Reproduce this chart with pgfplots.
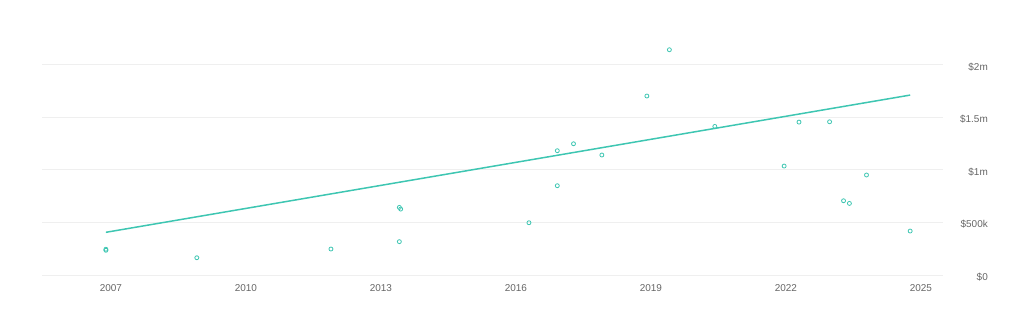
\documentclass[border=0pt]{standalone}
\usepackage{fontspec}
\setmainfont{Liberation Sans}
\usepackage{pgfplots}
\pgfplotsset{compat=1.18}
\definecolor{teal1}{HTML}{3EC6B2}
\definecolor{gridc}{HTML}{EFEFEF}
\definecolor{labc}{HTML}{666666}
\begin{document}
\begin{tikzpicture}
\useasboundingbox (0,0) rectangle (1016bp,320bp);
\begin{axis}[
  at={(42bp,45bp)}, anchor=south west,
  scale only axis, width=901bp, height=245bp,
  xmin=2005.47, xmax=2025.49,
  ymin=0, ymax=2.33,
  axis line style={draw=none},
  tick style={draw=none},
  xtick={2007,2010,2013,2016,2019,2022,2025},
  xticklabels={2007,2010,2013,2016,2019,2022,2025},
  ytick={0,0.5,1,1.5,2},
  yticklabels={\$0,\$500k,\$1m,\$1.5m,\$2m},
  yticklabel pos=right,
  ymajorgrids, grid style={gridc, line width=0.8bp},
  yticklabel style={anchor=east, inner sep=0pt, xshift=45bp, yshift=-2bp, font=\fontsize{10}{12}\selectfont, text=labc},
  xticklabel style={anchor=north, inner sep=0pt, yshift=-9bp, font=\fontsize{10}{12}\selectfont, text=labc},
  clip=false,
]
\addplot[teal1, line width=1.5bp] coordinates {(2006.89,0.406) (2024.76,1.711)};
\addplot[only marks, mark=o, mark size=2bp, mark options={teal1, line width=0.8bp, fill=white}] coordinates {
(2006.89,0.245) (2006.89,0.235)
(2008.91,0.164)
(2011.89,0.247)
(2013.41,0.643) (2013.44,0.627)
(2013.41,0.317)
(2016.29,0.497)
(2016.92,1.182)
(2016.92,0.849)
(2017.28,1.248)
(2017.91,1.141)
(2018.91,1.702)
(2019.41,2.142)
(2020.42,1.413)
(2021.96,1.036)
(2022.29,1.454)
(2022.97,1.457)
(2023.28,0.706)
(2023.41,0.681)
(2023.79,0.951)
(2024.76,0.418)
};
\end{axis}
\end{tikzpicture}
\end{document}
